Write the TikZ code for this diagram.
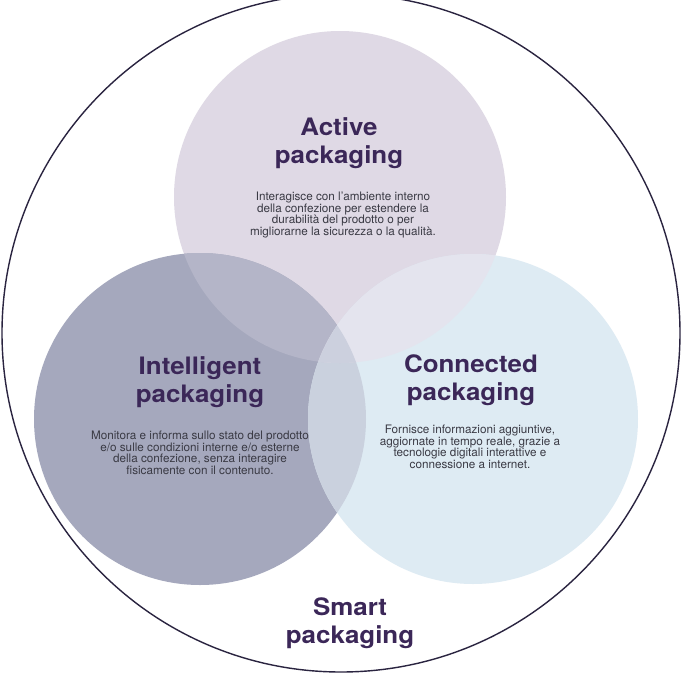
\documentclass[tikz,border=0pt]{standalone}
\usepackage{fontspec}
\setmainfont{TeX Gyre Heros}
\newfontfamily\headfont[FakeStretch=1.08]{TeX Gyre Heros}
\definecolor{actfill}{HTML}{DFD9E5}
\definecolor{intfill}{HTML}{A5A8BD}
\definecolor{confill}{HTML}{DEEBF3}
\definecolor{aifill}{HTML}{B4B5C8}
\definecolor{acfill}{HTML}{E4E4EE}
\definecolor{icfill}{HTML}{CAD1DE}
\definecolor{aicfill}{HTML}{CCD0DE}
\definecolor{headpurple}{HTML}{3B2758}
\definecolor{bodygray}{HTML}{3A3A44}
\definecolor{rimcolor}{HTML}{2A2440}
\tikzset{
  headtext/.style={font=\headfont\bfseries\fontsize{24}{28}\selectfont,
    text=headpurple, align=center, inner sep=0pt, anchor=north},
  bodytext/.style={font=\fontsize{11.7}{11.6}\selectfont,
    text=bodygray, align=center, inner sep=0pt, anchor=north},
}
\begin{document}
\begin{tikzpicture}[x=1pt,y=-1pt]
      \clip (0,0) rectangle (681,673);
      \fill[white] (0,0) rectangle (681,673);
%
      \coordinate (S) at (341,333) ;%% smart
      \coordinate (A) at (340,197) ;%% active
      \coordinate (I) at (200,419) ;%% intelligent
      \coordinate (C) at (473,419) ;%% connected
%
      \fill[actfill] (A) circle (166pt);%
      \fill[intfill] (I) circle (166pt);%
      \fill[confill] (C) circle (165pt);%
%
      \begin{scope}
        \clip (I) circle (166pt);
        \fill[icfill] (C) circle (165pt);
      \end{scope}
      \begin{scope}
        \clip (A) circle (166pt);
        \fill[aifill] (I) circle (166pt);
        \fill[acfill] (C) circle (165pt);
        \clip (I) circle (166pt);
        \fill[aicfill] (C) circle (165pt);
      \end{scope}
%
      \draw[rimcolor, line width=1.4pt] (S) circle (339pt);%
%
      \node[headtext] (acttitle) at (339,117) {Active\\packaging};
      \node[bodytext] (actbody) at (343,192) {Interagisce con l'ambiente interno\\della confezione per estendere la\\durabilità del prodotto o per\\migliorarne la sicurezza o la qualità.};
%
      \node[headtext] (inttitle) at (200,356) {Intelligent\\packaging};
      \node[bodytext] (intbody) at (200,431) {Monitora e informa sullo stato del prodotto\\e/o sulle condizioni interne e/o esterne\\della confezione, senza interagire\\fisicamente con il contenuto.};
%
      \node[headtext] (contitle) at (471,355) {Connected\\packaging};
      \node[bodytext] (conbody) at (470,425) {Fornisce informazioni aggiuntive,\\aggiornate in tempo reale, grazie a\\tecnologie digitali interattive e\\connessione a internet.};
%
      \node[headtext] (smarttitle) at (350,598) {Smart\\packaging};
\end{tikzpicture}
\end{document}
